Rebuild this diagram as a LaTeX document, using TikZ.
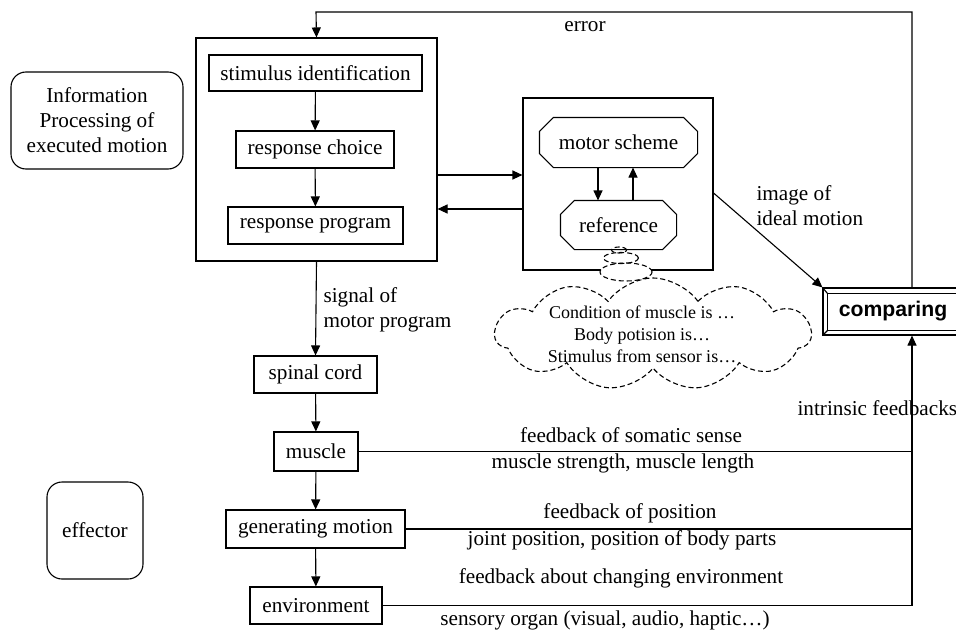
\documentclass[tikz,border=0pt]{standalone}
\usepackage{fontspec}
\setmainfont{Liberation Serif}
\setsansfont{Liberation Sans}
\usetikzlibrary{arrows.meta,shapes.misc,shapes.symbols,shapes.geometric,calc}
\tikzset{
  box/.style={draw, rectangle, inner sep=0pt, align=center},
  rbox/.style={draw, rectangle, rounded corners=7.5pt, inner sep=0pt, align=center},
  octbox/.style={rectangle, inner sep=0pt, align=center},
  arr/.style={-{Triangle[length=5pt,width=4.5pt]}},
  dsh/.style={dash pattern=on 2.5pt off 1.5pt},
  lbl/.style={inner sep=0pt, align=center}
}
\newcommand\octoutline[2]{%
  \draw ($(#1.north west)+(#2,0)$) -- ($(#1.north east)+(-#2,0)$) -- ($(#1.north east)+(0,#2)$)
    -- ($(#1.south east)+(0,-#2)$) -- ($(#1.south east)+(-#2,0)$) -- ($(#1.south west)+(#2,0)$)
    -- ($(#1.south west)+(0,-#2)$) -- ($(#1.north west)+(0,#2)$) -- cycle;}
\begin{document}
\begin{tikzpicture}[x=0.5pt,y=-0.5pt, line width=0.55pt, font=\fontsize{10.6}{12.5}\selectfont]
\clip (0,0) rectangle (956,631);
\fill[white] (0,0) rectangle (956,631);

\node[rbox, minimum width=86pt, minimum height=48.5pt] (info) at (97,120.5) {Information\\Processing of\\executed motion};
\node[box, minimum width=120.5pt, minimum height=111.5pt] (big) at (316.5,149.5) {};
\node[box, minimum width=106.5pt, minimum height=18pt] (stim) at (315.5,73) {stimulus identification};
\node[box, minimum width=79pt, minimum height=18.5pt] (choice) at (315,149.5) {response choice};
\node[box, minimum width=87.5pt, minimum height=18.5pt] (prog) at (315.5,225.5) {response program};

\node[box, minimum width=95pt, minimum height=86pt] (scheme) at (618,184) {};
\node[octbox, minimum width=78.5pt, minimum height=24.5pt] (motor) at (618.5,142.5) {motor scheme};
\octoutline{motor}{14}
\node[octbox, minimum width=57.5pt, minimum height=24pt] (ref) at (618.5,225) {reference};
\octoutline{ref}{14}

\node[box, minimum width=70pt, minimum height=23.5pt] (cmp) at (893,311.5) {\sffamily\bfseries comparing};
\draw ($(cmp.north west)+(5,6)$) rectangle ($(cmp.south east)+(-5,-5)$);
\draw (cmp.north west) -- ++(5,6);
\draw (cmp.south west) -- ++(5,-5);
\draw (cmp.north east) -- ++(-5,6);
\draw (cmp.south east) -- ++(-5,-5);

\node[box, minimum width=61.5pt, minimum height=18.5pt] (spinal) at (315.5,374.5) {spinal cord};
\node[box, minimum width=42pt, minimum height=19.5pt] (muscle) at (316,451.5) {muscle};
\node[box, minimum width=89.5pt, minimum height=19pt] (gen) at (315.5,529) {generating motion};
\node[box, minimum width=66pt, minimum height=18.5pt] (env) at (316,605.5) {environment};
\node[rbox, minimum width=48pt, minimum height=48.5pt] (eff) at (95,530.5) {effector};

% cloud and bubbles
\node[cloud, draw, dsh, cloud puffs=11, cloud puff arc=110, aspect=2.8, minimum width=158pt, minimum height=56pt, inner sep=0pt] (cloud) at (653,334) {};
\node[lbl, font=\fontsize{9}{11}\selectfont] (ctext) at (642,334) {Condition of muscle is …\\Body potision is…\\Stimulus from sensor is…};
\node[ellipse, draw, dsh, fill=white, inner sep=0pt, minimum width=26pt, minimum height=9pt] (b1) at (626,272) {};
\node[ellipse, draw, dsh, inner sep=0pt, minimum width=17.5pt, minimum height=5.5pt] (b2) at (621,258) {};
\node[ellipse, draw, dsh, inner sep=0pt, minimum width=7.5pt, minimum height=3pt] (b3) at (619,250) {};

% top error loop
\coordinate (topr) at (912,12);
\coordinate (topl) at (316,12);
\draw[arr] (cmp.north -| topr) -- (topr) -- (topl) -- (big.north);
\node[lbl] (err) at (585,27) {error};

% between big box and scheme box
\coordinate (yA) at (0,175);
\coordinate (yB) at (0,209);
\draw[arr] (big.east |- yA) -- (scheme.west |- yA);
\draw[arr] (scheme.west |- yB) -- (big.east |- yB);
\coordinate (xA) at (598,0);
\coordinate (xB) at (633,0);
\draw[arr] (motor.south -| xA) -- (ref.north -| xA);
\draw[arr] (ref.north -| xB) -- (motor.south -| xB);

% inner chain
\draw[arr] (stim) -- (choice);
\draw[arr] (choice) -- (prog);

% image of ideal motion
\coordinate (yC) at (0,193);
\draw[arr] (scheme.east |- yC) -- (cmp.north west);
\node[lbl, anchor=west, align=left] (img) at (756,206) {image of\\ideal motion};

% motor chain
\draw[arr] (big.south) -- (spinal.north);
\node[lbl, anchor=west, align=left] (sig) at (323,310) {signal of\\motor program};
\draw[arr] (spinal) -- (muscle);
\draw[arr] (muscle) -- (gen);
\draw[arr] (gen) -- (env);

% feedback lines
\coordinate (fbx) at (912,0);
\draw (muscle.east) -- (muscle.east -| fbx);
\draw (gen.east) -- (gen.east -| fbx);
\draw (env.east) -- (env.east -| fbx) coordinate (fbbot);
\draw[arr] (fbbot) -- (cmp.south -| fbx);

\node[lbl, anchor=west] (intr) at (797,408) {intrinsic feedbacks};
\node[lbl] (fb1) at (631,435) {feedback of somatic sense};
\node[lbl] (fb1b) at (623,463) {muscle strength, muscle length};
\node[lbl] (fb2) at (630,513) {feedback of position};
\node[lbl] (fb2b) at (622,540) {joint position, position of body parts};
\node[lbl] (fb3) at (621,578) {feedback about changing environment};
\node[lbl] (fb3b) at (605,620) {sensory organ (visual, audio, haptic…)};
\end{tikzpicture}
\end{document}
